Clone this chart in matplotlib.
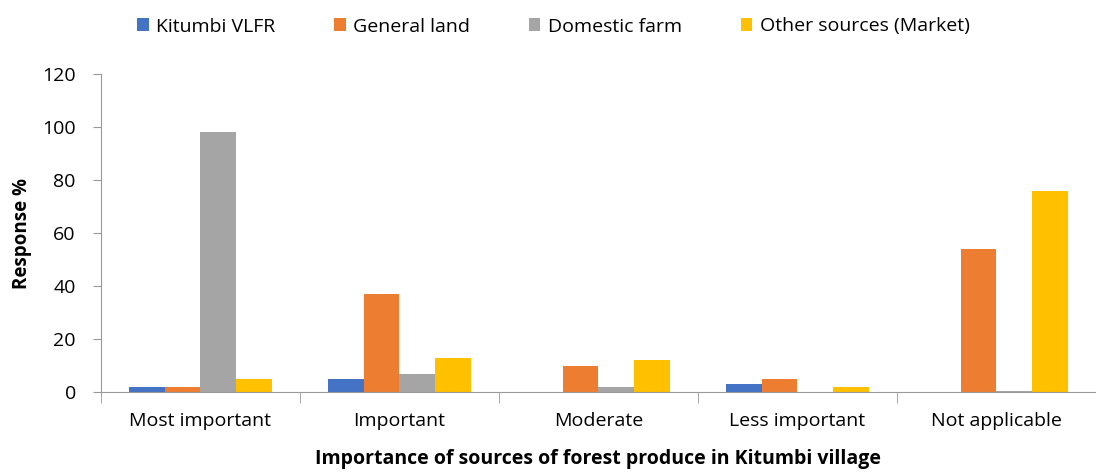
import matplotlib.pyplot as plt
import numpy as np

categories = ["Most important", "Important", "Moderate", "Less important", "Not applicable"]
series = ["Kitumbi VLFR", "General land", "Domestic farm", "Other sources (Market)"]
kitumbi = [2, 5, 0, 3, 0]
general_land = [2, 37, 10, 5, 54]
domestic_farm = [98, 7, 2, 0, 0.6]
other_sources = [5, 13, 12, 2, 76]
colors = ["#4472C4", "#ED7D31", "#A5A5A5", "#FFC000"]

plt.rcParams['font.family'] = ['Open Sans', 'DejaVu Sans']

fig = plt.figure(figsize=(10.96, 4.72), dpi=100)
ax = fig.add_axes([0.092, 0.169, 0.908, 0.674])

x = np.arange(len(categories))
width = 0.18
values = [kitumbi, general_land, domestic_farm, other_sources]
for i, (name, vals) in enumerate(zip(series, values)):
    ax.bar(x + (i - 1.5) * width, vals, width, color=colors[i], label=name)

ax.set_xlim(-0.5, len(categories) - 0.5)
ax.set_ylim(0, 120)
ax.set_yticks(range(0, 121, 20))
ax.set_xticks(x)
ax.set_xticklabels(categories)
ax.set_xticks(np.arange(-0.5, len(categories), 1), minor=True)
ax.tick_params(axis='x', which='major', length=0, labelsize=14, pad=14)
ax.tick_params(axis='x', which='minor', length=8, color='#999999')
ax.tick_params(axis='y', length=6, color='#999999', labelsize=14, pad=12)

for side in ['top', 'right']:
    ax.spines[side].set_visible(False)
for side in ['left', 'bottom']:
    ax.spines[side].set_color('#999999')

ax.set_ylabel("Response %", fontsize=13.5, fontweight='bold', labelpad=7)
ax.set_xlabel("Importance of sources of forest produce in Kitumbi village",
              fontsize=14, fontweight='bold', labelpad=14)

fig.legend(loc='upper center', bbox_to_anchor=(0.505, 1.0), ncol=4, frameon=False,
           fontsize=14, handlelength=0.6, handleheight=0.6, columnspacing=3.0,
           handletextpad=0.4)

fig.savefig("out.png", dpi=100)
